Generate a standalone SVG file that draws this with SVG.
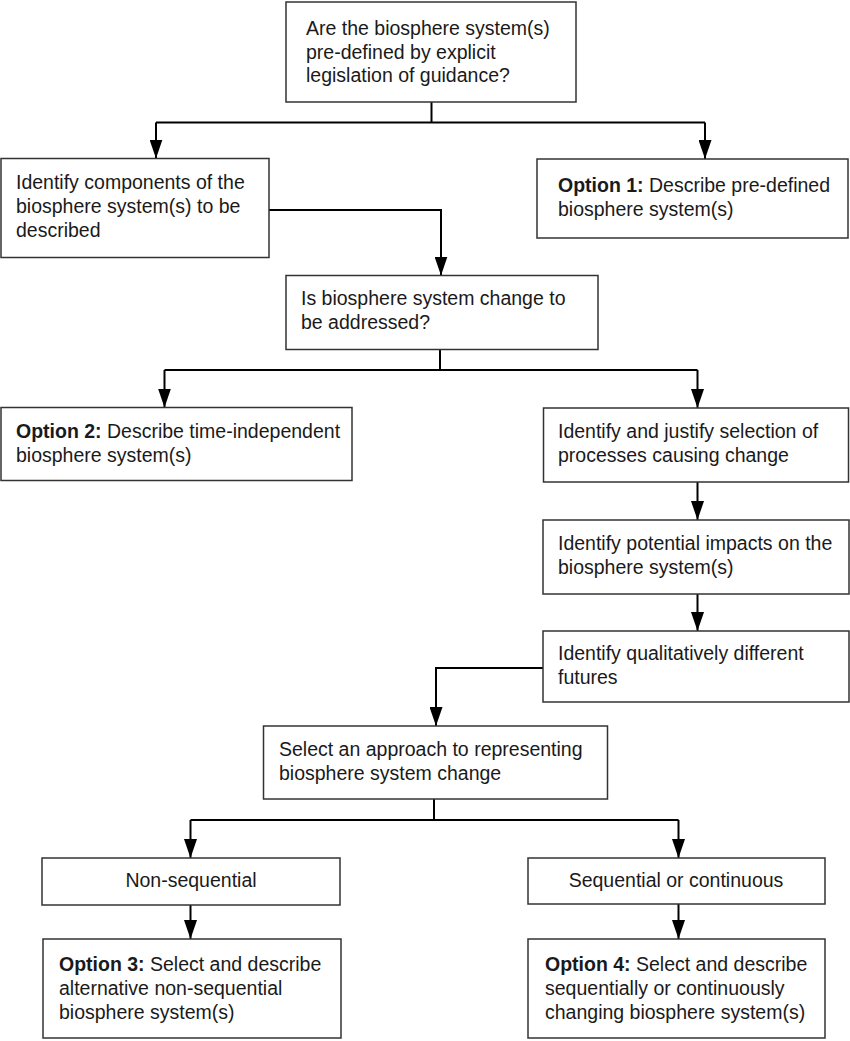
<svg xmlns="http://www.w3.org/2000/svg" width="850" height="1041" viewBox="0 0 850 1041">
<style>
.box{fill:#fff;stroke:#333;stroke-width:1.5}
.t{font-family:"Liberation Sans",Arial,sans-serif;font-size:19.5px;fill:#1a1a1a}
.c{text-anchor:middle}
.b{font-weight:bold}
.con{fill:none;stroke:#000;stroke-width:2}
</style>
<defs>
<marker id="ah" viewBox="0 0 19 13" refX="19" refY="6.5" markerWidth="19" markerHeight="13" markerUnits="userSpaceOnUse" orient="auto">
<path d="M0,0 L19,6.5 L0,13 z" fill="#000"/>
</marker>
</defs>
<rect width="850" height="1041" fill="#fff"/>
<g id="connectors">
<path class="con" d="M431.5,102 V122.5"/>
<path class="con" d="M156,122.5 H705"/>
<path class="con" d="M156,122.5 V158.5" marker-end="url(#ah)"/>
<path class="con" d="M705,122.5 V159" marker-end="url(#ah)"/>
<path class="con" d="M269,210 H441 V275.5" marker-end="url(#ah)"/>
<path class="con" d="M440,349.5 V370"/>
<path class="con" d="M164.5,370 H697.5"/>
<path class="con" d="M164.5,370 V407.5" marker-end="url(#ah)"/>
<path class="con" d="M697.5,370 V408" marker-end="url(#ah)"/>
<path class="con" d="M697.5,482 V520" marker-end="url(#ah)"/>
<path class="con" d="M697.5,594 V631" marker-end="url(#ah)"/>
<path class="con" d="M543,668 H436 V726" marker-end="url(#ah)"/>
<path class="con" d="M434,799 V820"/>
<path class="con" d="M190.5,820 H678.5"/>
<path class="con" d="M190.5,820 V858" marker-end="url(#ah)"/>
<path class="con" d="M678.5,820 V858" marker-end="url(#ah)"/>
<path class="con" d="M190.5,905 V939" marker-end="url(#ah)"/>
<path class="con" d="M678.5,904 V939" marker-end="url(#ah)"/>
</g>
<g id="n1">
<rect class="box" x="286" y="2" width="290" height="100"/>
<text class="t" x="306" y="35">Are the biosphere system(s)</text>
<text class="t" x="306" y="58.5">pre-defined by explicit</text>
<text class="t" x="306" y="82">legislation of guidance?</text>
</g>
<g id="n2">
<rect class="box" x="1" y="158.5" width="268" height="99"/>
<text class="t" x="16" y="189">Identify components of the</text>
<text class="t" x="16" y="213">biosphere system(s) to be</text>
<text class="t" x="16" y="237">described</text>
</g>
<g id="n3">
<rect class="box" x="537" y="159" width="311" height="79"/>
<text class="t" x="558" y="192"><tspan class="b">Option 1:</tspan> Describe pre-defined</text>
<text class="t" x="558" y="216">biosphere system(s)</text>
</g>
<g id="n4">
<rect class="box" x="286" y="275.5" width="312" height="74"/>
<text class="t" x="301" y="305">Is biosphere system change to</text>
<text class="t" x="301" y="329">be addressed?</text>
</g>
<g id="n5">
<rect class="box" x="1" y="407.5" width="351" height="73"/>
<text class="t" x="16" y="438"><tspan class="b">Option 2:</tspan> Describe time-independent</text>
<text class="t" x="16" y="462">biosphere system(s)</text>
</g>
<g id="n6">
<rect class="box" x="543.5" y="408" width="305" height="74"/>
<text class="t" x="558" y="438">Identify and justify selection of</text>
<text class="t" x="558" y="462">processes causing change</text>
</g>
<g id="n7">
<rect class="box" x="543" y="520" width="306" height="74"/>
<text class="t" x="558" y="550">Identify potential impacts on the</text>
<text class="t" x="558" y="574">biosphere system(s)</text>
</g>
<g id="n8">
<rect class="box" x="543" y="631" width="306" height="71"/>
<text class="t" x="558" y="660">Identify qualitatively different</text>
<text class="t" x="558" y="684">futures</text>
</g>
<g id="n9">
<rect class="box" x="263.5" y="726" width="344" height="73"/>
<text class="t" x="279" y="756">Select an approach to representing</text>
<text class="t" x="279" y="780">biosphere system change</text>
</g>
<g id="n10">
<rect class="box" x="42" y="858" width="298" height="47"/>
<text class="t c" x="191" y="887">Non-sequential</text>
</g>
<g id="n11">
<rect class="box" x="528" y="858" width="297" height="46"/>
<text class="t c" x="676" y="887">Sequential or continuous</text>
</g>
<g id="n12">
<rect class="box" x="43" y="939" width="298" height="99"/>
<text class="t" x="59" y="971"><tspan class="b">Option 3:</tspan> Select and describe</text>
<text class="t" x="59" y="995">alternative non-sequential</text>
<text class="t" x="59" y="1019">biosphere system(s)</text>
</g>
<g id="n13">
<rect class="box" x="528" y="939" width="297" height="99"/>
<text class="t" x="545" y="971"><tspan class="b">Option 4:</tspan> Select and describe</text>
<text class="t" x="545" y="995">sequentially or continuously</text>
<text class="t" x="545" y="1019">changing biosphere system(s)</text>
</g>
</svg>
